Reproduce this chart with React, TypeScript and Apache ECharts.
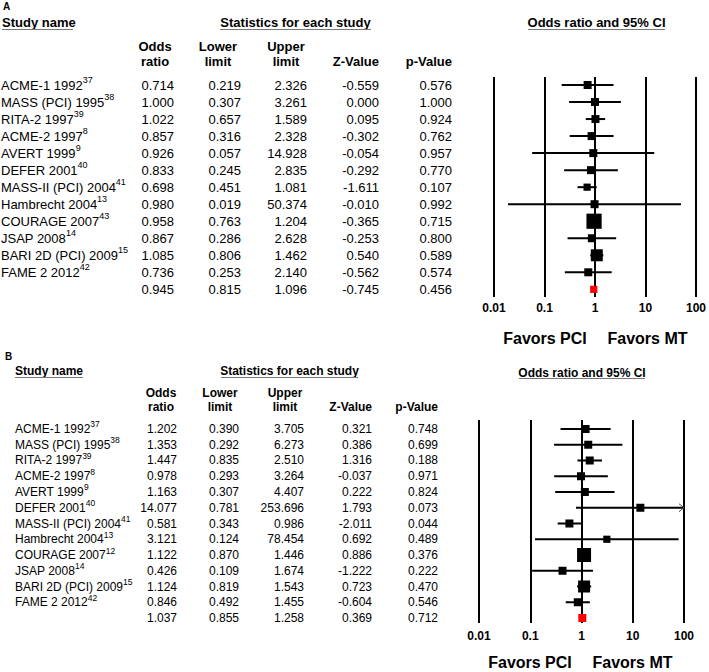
import React, { useEffect, useRef } from 'react';
import * as echarts from 'echarts';

const FONT = 'Arial, "Liberation Sans", Helvetica, sans-serif';

// ---------- Panel A data ----------
const studiesA = ['ACME-1 1992', 'MASS (PCI) 1995', 'RITA-2 1997', 'ACME-2 1997', 'AVERT 1999', 'DEFER 2001', 'MASS-II (PCI) 2004', 'Hambrecht 2004', 'COURAGE 2007', 'JSAP 2008', 'BARI 2D (PCI) 2009', 'FAME 2 2012', ''];
const refsA = ['37', '38', '39', '8', '9', '40', '41', '13', '43', '14', '15', '42', ''];
const oddsA = [0.714, 1.0, 1.022, 0.857, 0.926, 0.833, 0.698, 0.98, 0.958, 0.867, 1.085, 0.736, 0.945];
const lowerA = [0.219, 0.307, 0.657, 0.316, 0.057, 0.245, 0.451, 0.019, 0.763, 0.286, 0.806, 0.253, 0.815];
const upperA = [2.326, 3.261, 1.589, 2.328, 14.928, 2.835, 1.081, 50.374, 1.204, 2.628, 1.462, 2.14, 1.096];
const zA = [-0.559, 0.0, 0.095, -0.302, -0.054, -0.292, -1.611, -0.01, -0.365, -0.253, 0.54, -0.562, -0.745];
const pA = [0.576, 1.0, 0.924, 0.762, 0.957, 0.77, 0.107, 0.992, 0.715, 0.8, 0.589, 0.574, 0.456];
const weightA = [1, 1, 1, 1, 1, 1, 0.9, 1, 1.9, 1, 1.5, 1, 0.9];

// ---------- Panel B data ----------
const studiesB = ['ACME-1 1992', 'MASS (PCI) 1995', 'RITA-2 1997', 'ACME-2 1997', 'AVERT 1999', 'DEFER 2001', 'MASS-II (PCI) 2004', 'Hambrecht 2004', 'COURAGE 2007', 'JSAP 2008', 'BARI 2D (PCI) 2009', 'FAME 2 2012', ''];
const refsB = ['37', '38', '39', '8', '9', '40', '41', '13', '12', '14', '15', '42', ''];
const oddsB = [1.202, 1.353, 1.447, 0.978, 1.163, 14.077, 0.581, 3.121, 1.122, 0.426, 1.124, 0.846, 1.037];
const lowerB = [0.39, 0.292, 0.835, 0.293, 0.307, 0.781, 0.343, 0.124, 0.87, 0.109, 0.819, 0.492, 0.855];
const upperB = [3.705, 6.273, 2.51, 3.264, 4.407, 253.696, 0.986, 78.454, 1.446, 1.674, 1.543, 1.455, 1.258];
const zB = [0.321, 0.386, 1.316, -0.037, 0.222, 1.793, -2.011, 0.692, 0.886, -1.222, 0.723, -0.604, 0.369];
const pB = [0.748, 0.699, 0.188, 0.971, 0.824, 0.073, 0.044, 0.489, 0.376, 0.222, 0.47, 0.546, 0.712];
const weightB = [1, 1, 1, 1, 1, 1, 1, 0.9, 1.75, 1, 1.5, 1, 1];

const tickLabels = ['0.01', '0.1', '1', '10', '100'];
const AXIS_MIN = 0.01;
const AXIS_MAX = 100;

type Panel = {
  names: string[]; refs: string[]; odds: number[]; lower: number[]; upper: number[]; z: number[]; p: number[]; weight: number[];
  top: number; height: number; yMin: number; yMax: number; forestLeft: number; forestWidth: number;
  font: number; supFont: number; lineH: number; supLineH: number; nameX: number; cols: number[]; tickMargin: number; box: number;
};

const panels: Panel[] = [
  {
    names: studiesA, refs: refsA, odds: oddsA, lower: lowerA, upper: upperA, z: zA, p: pA, weight: weightA,
    top: 77, height: 220, yMin: -0.47, yMax: 12.45, forestLeft: 494, forestWidth: 205,
    font: 13, supFont: 9, lineH: 20, supLineH: 8, nameX: 1, cols: [174, 241, 307, 379, 452], tickMargin: 5, box: 8,
  },
  {
    names: studiesB, refs: refsB, odds: oddsB, lower: lowerB, upper: upperB, z: zB, p: pB, weight: weightB,
    top: 420, height: 203, yMin: -0.571, yMax: 12.317, forestLeft: 479, forestWidth: 205,
    font: 12, supFont: 8.5, lineH: 18, supLineH: 7, nameX: 15, cols: [177, 239, 304, 372, 438], tickMargin: 7, box: 8,
  },
];

function textStyle(text: string, x: number, y: number, size: number, bold: boolean, align: string, vAlign = 'middle') {
  return {
    type: 'text',
    x,
    y,
    silent: true,
    style: {
      text,
      fill: '#000',
      fontFamily: FONT,
      fontSize: size,
      fontWeight: bold ? 'bold' : 'normal',
      align,
      textAlign: align,
      verticalAlign: vAlign,
      textVerticalAlign: vAlign,
    },
  };
}

function uline(x1: number, x2: number, y: number) {
  return { type: 'line', silent: true, shape: { x1, y1: y, x2, y2: y }, style: { stroke: '#777', lineWidth: 1 } };
}

const headerGraphics = [
  // Panel A
  textStyle('A', 3, 6, 10, true, 'left'),
  textStyle('Study name', 2, 22, 13, true, 'left'),
  uline(2, 73, 29.5),
  textStyle('Statistics for each study', 295.5, 22, 13, true, 'center'),
  uline(220, 371, 29.5),
  textStyle('Odds ratio and 95% CI', 596.5, 22, 13, true, 'center'),
  uline(528, 665, 29.5),
  textStyle('Odds', 155, 46, 13, true, 'center'),
  textStyle('ratio', 155, 61, 13, true, 'center'),
  textStyle('Lower', 218, 46, 13, true, 'center'),
  textStyle('limit', 218, 61, 13, true, 'center'),
  textStyle('Upper', 286, 46, 13, true, 'center'),
  textStyle('limit', 286, 61, 13, true, 'center'),
  textStyle('Z-Value', 379, 61, 13, true, 'right'),
  textStyle('p-Value', 452, 61, 13, true, 'right'),
  textStyle('Favors PCI', 545, 338, 16, true, 'center'),
  textStyle('Favors MT', 647.5, 338, 16, true, 'center'),
  // Panel B
  textStyle('B', 5, 356, 10, true, 'left'),
  textStyle('Study name', 15, 371, 12, true, 'left'),
  uline(15, 83, 377.5),
  textStyle('Statistics for each study', 289.5, 371, 12, true, 'center'),
  uline(221, 358, 377.5),
  textStyle('Odds ratio and 95% CI', 582, 373, 12, true, 'center'),
  uline(519, 645, 378.5),
  textStyle('Odds', 161, 393, 12, true, 'center'),
  textStyle('ratio', 161, 407, 12, true, 'center'),
  textStyle('Lower', 220, 393, 12, true, 'center'),
  textStyle('limit', 220, 407, 12, true, 'center'),
  textStyle('Upper', 285, 393, 12, true, 'center'),
  textStyle('limit', 285, 407, 12, true, 'center'),
  textStyle('Z-Value', 372, 407, 12, true, 'right'),
  textStyle('p-Value', 438, 407, 12, true, 'right'),
  textStyle('Favors PCI', 530, 662, 16, true, 'center'),
  textStyle('Favors MT', 632.5, 662, 16, true, 'center'),
];

function buildOption() {
  const grid: any[] = [];
  const xAxis: any[] = [];
  const yAxis: any[] = [];
  const series: any[] = [];

  panels.forEach((pn, k) => {
    const tIdx = k * 2;
    const fIdx = k * 2 + 1;
    // table grid
    grid.push({ left: 0, top: pn.top, width: 709, height: pn.height, show: false });
    xAxis.push({ type: 'value', gridIndex: tIdx, min: 0, max: 709, show: false });
    yAxis.push({ type: 'value', gridIndex: tIdx, min: pn.yMin, max: pn.yMax, inverse: true, show: false });
    // forest grid
    grid.push({ left: pn.forestLeft, top: pn.top, width: pn.forestWidth, height: pn.height, show: false });
    xAxis.push({
      type: 'log', gridIndex: fIdx, logBase: 10, min: AXIS_MIN, max: AXIS_MAX,
      axisLine: { show: false }, axisTick: { show: false },
      splitLine: { show: true, lineStyle: { color: '#000', width: 2 } },
      axisLabel: {
        show: true, margin: pn.tickMargin, color: '#000', fontFamily: FONT, fontSize: 12, fontWeight: 'bold',
        formatter: (v: number) => {
          const i = Math.round(Math.log10(v)) + 2;
          return tickLabels[i] ?? '';
        },
      },
    });
    yAxis.push({ type: 'value', gridIndex: fIdx, min: pn.yMin, max: pn.yMax, inverse: true, show: false });

    // table text columns
    const columns: { texts: string[]; x: number; align: string; rich: boolean }[] = [
      {
        texts: pn.names.map((n, i) => (n ? `{n|${n}}{s|${pn.refs[i]}}` : '')),
        x: pn.nameX, align: 'left', rich: true,
      },
      { texts: pn.odds.map((v) => v.toFixed(3)), x: pn.cols[0], align: 'right', rich: false },
      { texts: pn.lower.map((v) => v.toFixed(3)), x: pn.cols[1], align: 'right', rich: false },
      { texts: pn.upper.map((v) => v.toFixed(3)), x: pn.cols[2], align: 'right', rich: false },
      { texts: pn.z.map((v) => v.toFixed(3)), x: pn.cols[3], align: 'right', rich: false },
      { texts: pn.p.map((v) => v.toFixed(3)), x: pn.cols[4], align: 'right', rich: false },
    ];
    columns.forEach((col) => {
      series.push({
        type: 'custom',
        xAxisIndex: tIdx,
        yAxisIndex: tIdx,
        clip: false,
        silent: true,
        data: col.texts.map((_, i) => [col.x, i]),
        encode: { x: 0, y: 1 },
        renderItem: (params: any, api: any) => {
          const pt = api.coord([api.value(0), api.value(1)]);
          const txt = col.texts[params.dataIndex];
          if (!txt) return null;
          const style: any = {
            text: txt,
            fill: '#000',
            fontFamily: FONT,
            fontSize: pn.font,
            align: col.align,
            verticalAlign: 'middle',
          };
          if (col.rich) {
            style.rich = {
              n: { fontSize: pn.font, fontFamily: FONT, fill: '#000', lineHeight: pn.lineH, verticalAlign: 'middle' },
              s: { fontSize: pn.supFont, fontFamily: FONT, fill: '#000', lineHeight: pn.supLineH, verticalAlign: 'top' },
            };
          }
          return { type: 'text', x: pt[0], y: pt[1], style };
        },
      });
    });

    // forest plot marks
    const lastIdx = pn.odds.length - 1;
    series.push({
      type: 'custom',
      xAxisIndex: fIdx,
      yAxisIndex: fIdx,
      clip: false,
      silent: true,
      data: pn.odds.map((o, i) => [o, pn.lower[i], pn.upper[i], i, pn.weight[i], i === lastIdx ? 1 : 0]),
      encode: { x: [0, 1, 2], y: 3 },
      renderItem: (params: any, api: any) => {
        const or = api.value(0);
        const lo = api.value(1);
        const hi = api.value(2);
        const row = api.value(3);
        const w = api.value(4);
        const summary = api.value(5) === 1;
        const pc = api.coord([or, row]);
        const p0 = api.coord([Math.max(lo, AXIS_MIN), row]);
        const p1 = api.coord([Math.min(hi, AXIS_MAX), row]);
        const size = pn.box * w;
        const children: any[] = [];
        if (!summary) {
          children.push({
            type: 'line',
            shape: { x1: p0[0], y1: p0[1], x2: p1[0], y2: p1[1] },
            style: { stroke: '#000', lineWidth: 2 },
          });
          if (hi > AXIS_MAX) {
            children.push({
              type: 'polyline',
              shape: { points: [[p1[0] - 5, p1[1] - 4], [p1[0], p1[1]], [p1[0] - 5, p1[1] + 4]] },
              style: { stroke: '#555', lineWidth: 1, fill: 'none' },
            });
          }
        }
        children.push({
          type: 'rect',
          shape: { x: pc[0] - size / 2, y: pc[1] - size / 2, width: size, height: size },
          style: { fill: summary ? '#ff0000' : '#000' },
        });
        return { type: 'group', children };
      },
    });
  });

  return {
    animation: false,
    backgroundColor: '#fff',
    textStyle: { fontFamily: FONT },
    grid,
    xAxis,
    yAxis,
    series,
    graphic: { elements: headerGraphics },
  };
}

export default function App() {
  const ref = useRef<HTMLDivElement>(null);
  useEffect(() => {
    if (!ref.current) return;
    const chart = echarts.init(ref.current, undefined, { renderer: 'svg' });
    chart.setOption(buildOption() as any);
    return () => chart.dispose();
  }, []);
  return (
    <div
      ref={ref}
      style={{ position: 'absolute', left: 0, top: 0, width: 709, height: 672, background: '#fff' }}
    />
  );
}
